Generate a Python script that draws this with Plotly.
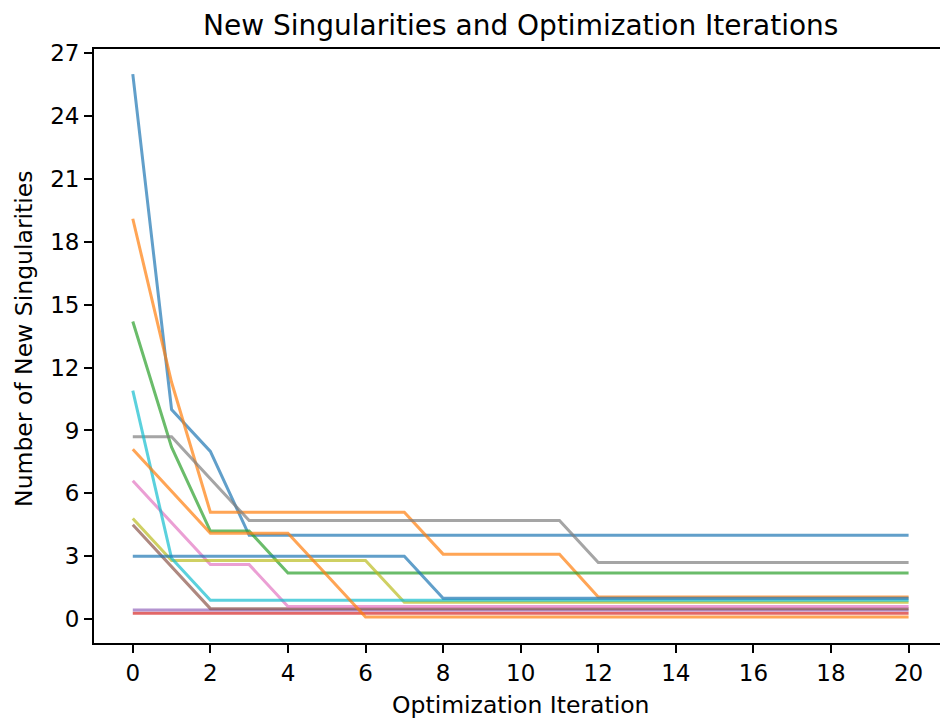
import plotly.graph_objects as go

# Optimization iterations (x axis)
iterations = list(range(21))

# New singularities per run, one list per run (tab10 colour order)
run_01 = [26.0, 10.0, 8.0, 4.0, 4.0, 4.0, 4.0, 4.0, 4.0, 4.0, 4.0, 4.0, 4.0, 4.0, 4.0, 4.0, 4.0, 4.0, 4.0, 4.0, 4.0]
run_02 = [19.1, 11.3, 5.1, 5.1, 5.1, 5.1, 5.1, 5.1, 3.1, 3.1, 3.1, 3.1, 1.05, 1.05, 1.05, 1.05, 1.05, 1.05, 1.05, 1.05, 1.05]
run_03 = [14.2, 8.2, 4.2, 4.2, 2.2, 2.2, 2.2, 2.2, 2.2, 2.2, 2.2, 2.2, 2.2, 2.2, 2.2, 2.2, 2.2, 2.2, 2.2, 2.2, 2.2]
run_04 = [0.28, 0.28, 0.28, 0.28, 0.28, 0.28, 0.28, 0.28, 0.28, 0.28, 0.28, 0.28, 0.28, 0.28, 0.28, 0.28, 0.28, 0.28, 0.28, 0.28, 0.28]
run_05 = [0.43, 0.43, 0.43, 0.43, 0.43, 0.43, 0.43, 0.43, 0.43, 0.43, 0.43, 0.43, 0.43, 0.43, 0.43, 0.43, 0.43, 0.43, 0.43, 0.43, 0.43]
run_06 = [4.5, 2.5, 0.5, 0.5, 0.5, 0.5, 0.5, 0.5, 0.5, 0.5, 0.5, 0.5, 0.5, 0.5, 0.5, 0.5, 0.5, 0.5, 0.5, 0.5, 0.5]
run_07 = [6.6, 4.6, 2.6, 2.6, 0.6, 0.6, 0.6, 0.6, 0.6, 0.6, 0.6, 0.6, 0.6, 0.6, 0.6, 0.6, 0.6, 0.6, 0.6, 0.6, 0.6]
run_08 = [8.7, 8.7, 6.7, 4.7, 4.7, 4.7, 4.7, 4.7, 4.7, 4.7, 4.7, 4.7, 2.7, 2.7, 2.7, 2.7, 2.7, 2.7, 2.7, 2.7, 2.7]
run_09 = [4.8, 2.8, 2.8, 2.8, 2.8, 2.8, 2.8, 0.8, 0.8, 0.8, 0.8, 0.8, 0.8, 0.8, 0.8, 0.8, 0.8, 0.8, 0.8, 0.8, 0.8]
run_10 = [10.9, 2.9, 0.9, 0.9, 0.9, 0.9, 0.9, 0.9, 0.9, 0.9, 0.9, 0.9, 0.9, 0.9, 0.9, 0.9, 0.9, 0.9, 0.9, 0.9, 0.9]
run_11 = [3.0, 3.0, 3.0, 3.0, 3.0, 3.0, 3.0, 3.0, 1.0, 1.0, 1.0, 1.0, 1.0, 1.0, 1.0, 1.0, 1.0, 1.0, 1.0, 1.0, 1.0]
run_12 = [8.1, 6.1, 4.1, 4.1, 4.1, 2.1, 0.1, 0.1, 0.1, 0.1, 0.1, 0.1, 0.1, 0.1, 0.1, 0.1, 0.1, 0.1, 0.1, 0.1, 0.1]

runs = [run_01, run_02, run_03, run_04, run_05, run_06,
        run_07, run_08, run_09, run_10, run_11, run_12]

x_ticks = list(range(0, 21, 2))
y_ticks = list(range(0, 28, 3))

palette = ["#1f77b4", "#ff7f0e", "#2ca02c", "#d62728", "#9467bd",
           "#8c564b", "#e377c2", "#7f7f7f", "#bcbd22", "#17becf"]

FONT = "DejaVu Sans"

fig = go.Figure()
for i, values in enumerate(runs):
    fig.add_trace(go.Scatter(
        x=iterations, y=values, mode="lines",
        line=dict(color=palette[i % len(palette)], width=3),
        opacity=0.7, showlegend=False, hoverinfo="skip",
    ))

axis_common = dict(
    showline=True, linecolor="black", linewidth=1.8,
    ticks="outside", ticklen=8, tickwidth=1.8, tickcolor="black",
    showgrid=False, zeroline=False,
    tickfont=dict(family=FONT, size=23, color="black"),
)

fig.update_layout(
    width=940, height=719,
    margin=dict(l=94, r=0, t=49, b=76),
    paper_bgcolor="white", plot_bgcolor="white",
    xaxis=dict(range=[-1, 20.81], tickvals=x_ticks, mirror=True, **axis_common),
    yaxis=dict(range=[-1.14, 27.2], tickvals=y_ticks, **axis_common),
    annotations=[
        dict(text="New Singularities and Optimization Iterations",
             xref="paper", yref="paper", x=0.5047, y=1.04,
             xanchor="center", yanchor="middle", showarrow=False,
             font=dict(family=FONT, size=28, color="black")),
        dict(text="Optimization Iteration",
             xref="paper", yref="paper", x=0.5047, y=-0.1044,
             xanchor="center", yanchor="middle", showarrow=False,
             font=dict(family=FONT, size=23.5, color="black")),
        dict(text="Number of New Singularities",
             xref="paper", yref="paper", x=-0.0827, y=0.512,
             xanchor="center", yanchor="middle", showarrow=False,
             textangle=-90,
             font=dict(family=FONT, size=23.5, color="black")),
    ],
)

fig.write_html("out.html")
